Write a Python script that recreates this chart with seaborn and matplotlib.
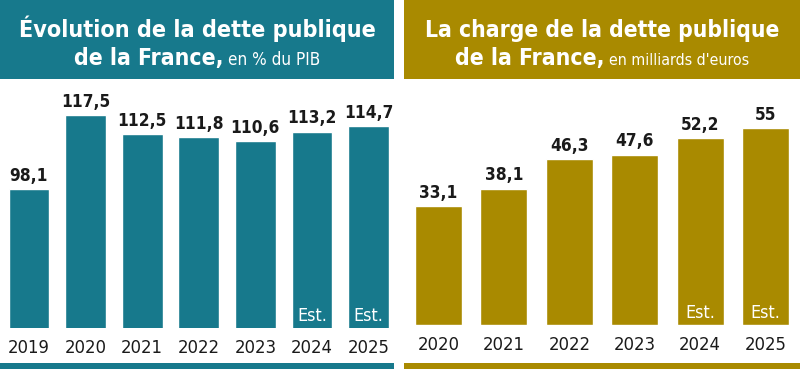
import matplotlib
matplotlib.use("Agg")
import matplotlib.pyplot as plt
from matplotlib import font_manager as fm
import seaborn as sns
import pandas as pd
from matplotlib.patches import Rectangle

# ---- data ----
years_dette = ["2019", "2020", "2021", "2022", "2023", "2024", "2025"]
dette_pib = [98.1, 117.5, 112.5, 111.8, 110.6, 113.2, 114.7]
labels_dette = ["98,1", "117,5", "112,5", "111,8", "110,6", "113,2", "114,7"]

years_charge = ["2020", "2021", "2022", "2023", "2024", "2025"]
charge = [33.1, 38.1, 46.3, 47.6, 52.2, 55.0]
labels_charge = ["33,1", "38,1", "46,3", "47,6", "52,2", "55"]

estimate_years = ["2024", "2025"]
estimate_text = "Est."

title_left = ["Évolution de la dette publique", "de la France,", "en % du PIB"]
title_right = ["La charge de la dette publique", "de la France,", "en milliards d'euros"]

TEAL = "#17798c"
GOLD = "#a98a00"
INK = "#1a1a1a"
W, H = 800, 369


# ---- pick the narrowest available font ----
def resolve_font():
    cands = [("Liberation Sans Narrow", "normal"), ("Noto Sans", "condensed"),
             ("Noto Sans Condensed", "normal"), ("DejaVu Sans", "condensed"),
             ("DejaVu Sans Condensed", "normal"), ("Roboto Condensed", "normal"),
             ("Open Sans", "condensed"), ("Open Sans Condensed", "normal"),
             ("Roboto", "condensed")]
    for fam, st in cands:
        try:
            f = fm.findfont(fm.FontProperties(family=fam, stretch=st, weight="bold"),
                            fallback_to_default=False)
        except Exception:
            continue
        name = f.lower()
        if "narrow" in name or "condensed" in name:
            return fam, st
    return "Liberation Sans", "normal"


FAM, STRETCH = resolve_font()

sns.set_theme(style="white")
plt.rcParams["font.family"] = [FAM, "DejaVu Sans"]
plt.rcParams["font.stretch"] = STRETCH

fig = plt.figure(figsize=(8, 3.69), dpi=100)
fig.patch.set_facecolor("white")
R = fig.canvas.get_renderer()


def fit(text, target_px, weight="normal", base=20.0):
    t = fig.text(0, 0, text, fontsize=base, fontweight=weight)
    w = t.get_window_extent(R).width
    t.remove()
    return base * target_px / w


def rect(x0, y0, x1, y1):
    return [x0 / W, 1 - y1 / H, (x1 - x0) / W, (y1 - y0) / H]


tick_fs = fit("2019", 42)
val_fs = fit("117,5", 49, "bold")
est_fs = fit("Est.", 30)


def panel(years, values, labels, titles, color, box_x, ax_x, ax_y, ylim, w_line1, w_bold, w_reg):
    l, b, w, h = rect(box_x[0], 0, box_x[1], 79)
    fig.patches.append(Rectangle((l, b), w, h, transform=fig.transFigure,
                                 facecolor=color, edgecolor="none", zorder=0))
    l, b, w, h = rect(box_x[0], 363, box_x[1], 369)
    fig.patches.append(Rectangle((l, b), w, h, transform=fig.transFigure,
                                 facecolor=color, edgecolor="none", zorder=0))
    mid = (box_x[0] + box_x[1]) / 2
    fig.text(mid / W, 1 - 37 / H, titles[0], ha="center", va="baseline",
             color="white", fontsize=fit(titles[0], w_line1, "bold"), fontweight="bold")
    t1 = fig.text(0, 1 - 65 / H, titles[1], ha="left", va="baseline", color="white",
                  fontsize=fit(titles[1], w_bold, "bold"), fontweight="bold")
    t2 = fig.text(0, 1 - 65 / H, titles[2], ha="left", va="baseline", color="white",
                  fontsize=fit(titles[2], w_reg))
    w1 = t1.get_window_extent(R).width
    w2 = t2.get_window_extent(R).width
    gap = 5
    start = mid - (w1 + gap + w2) / 2
    t1.set_x(start / W)
    t2.set_x((start + w1 + gap) / W)

    ax = fig.add_axes(rect(ax_x[0], ax_y[0], ax_x[1], ax_y[1]))
    df = pd.DataFrame({"year": years, "value": values})
    sns.barplot(data=df, x="year", y="value", color=color, saturation=1,
                width=0.72, ax=ax)
    ax.set_ylim(*ylim)
    ax.set_xlim(-0.5, len(years) - 0.5)
    ax.bar_label(ax.containers[0], labels=labels, padding=3,
                 fontsize=val_fs, fontweight="bold", color=INK)
    for i, y in enumerate(years):
        if y in estimate_years:
            ax.annotate(estimate_text, xy=(i, ylim[0]), xytext=(0, 2.5),
                        textcoords="offset points", ha="center", va="bottom",
                        color="white", fontsize=est_fs)
    ax.set_xlabel("")
    ax.set_ylabel("")
    ax.set_yticks([])
    ax.tick_params(axis="x", length=0, pad=8, labelsize=tick_fs, labelcolor=INK)
    for s in ax.spines.values():
        s.set_visible(False)
    ax.patch.set_alpha(0)
    return ax


panel(years_dette, dette_pib, labels_dette, title_left, TEAL,
      (0, 394), (0.7, 396.8), (80, 328), (61.7, 126.7), 358, 149, 92)
panel(years_charge, charge, labels_charge, title_right, GOLD,
      (404, 800), (405.8, 798.2), (80, 325), (0, 68.4), 354, 149, 140)

fig.savefig("out.png", dpi=100, facecolor="white")
